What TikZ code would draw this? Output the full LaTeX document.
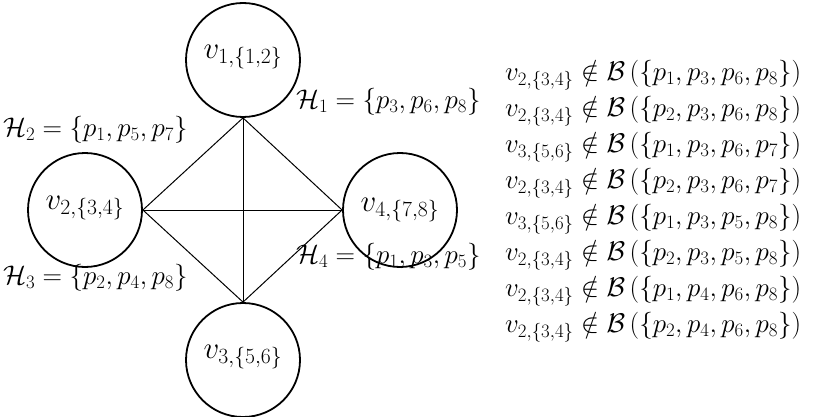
\RequirePackage{fix-cm}
\documentclass[tikz,border=0pt]{standalone}
\usepackage{amsmath,amssymb}
\begin{document}
\begin{tikzpicture}[x=1pt,y=-1pt,
  vert/.style={circle,draw,line width=1.8pt,minimum size=114pt,inner sep=0pt},
  vlab/.style={font=\fontsize{31}{36}\selectfont},
  lab/.style={font=\fontsize{27}{32}\selectfont,inner sep=0pt,anchor=west},
  edge/.style={line width=1pt}]
\useasboundingbox (0,0) rectangle (830,417);
\node[vert] (v1) at (243,60) {};
\node[vert] (v2) at (85,210) {};
\node[vert] (v4) at (400,210) {};
\node[vert] (v3) at (243,360) {};
\node[vlab] (t1) at (243,57) {$v_{1,\{1,2\}}$};
\node[vlab] (t2) at (85,208) {$v_{2,\{3,4\}}$};
\node[vlab] (t4) at (400,210) {$v_{4,\{7,8\}}$};
\node[vlab] (t3) at (243,357) {$v_{3,\{5,6\}}$};
\draw[edge] (v1.south) -- (v3.north);
\draw[edge] (v2.east) -- (v4.west);
\draw[edge] (v1.south) -- (v2.east);
\draw[edge] (v1.south) -- (v4.west);
\draw[edge] (v3.north) -- (v2.east);
\draw[edge] (v3.north) -- (v4.west);
\node[lab] (h1) at (296,102) {$\mathcal{H}_1=\{p_3,p_6,p_8\}$};
\node[lab] (h2) at (3,130) {$\mathcal{H}_2=\{p_1,p_5,p_7\}$};
\node[lab] (h3) at (3,278) {$\mathcal{H}_3=\{p_2,p_4,p_8\}$};
\node[lab] (h4) at (296,257) {$\mathcal{H}_4=\{p_1,p_3,p_5\}$};
\node[lab] (r1) at (505,75) {$v_{2,\{3,4\}}\notin\mathcal{B}\left(\{p_1,p_3,p_6,p_8\}\right)$};
\node[lab] (r2) at (505,111) {$v_{2,\{3,4\}}\notin\mathcal{B}\left(\{p_2,p_3,p_6,p_8\}\right)$};
\node[lab] (r3) at (505,147) {$v_{3,\{5,6\}}\notin\mathcal{B}\left(\{p_1,p_3,p_6,p_7\}\right)$};
\node[lab] (r4) at (505,183) {$v_{2,\{3,4\}}\notin\mathcal{B}\left(\{p_2,p_3,p_6,p_7\}\right)$};
\node[lab] (r5) at (505,219) {$v_{3,\{5,6\}}\notin\mathcal{B}\left(\{p_1,p_3,p_5,p_8\}\right)$};
\node[lab] (r6) at (505,255) {$v_{2,\{3,4\}}\notin\mathcal{B}\left(\{p_2,p_3,p_5,p_8\}\right)$};
\node[lab] (r7) at (505,291) {$v_{2,\{3,4\}}\notin\mathcal{B}\left(\{p_1,p_4,p_6,p_8\}\right)$};
\node[lab] (r8) at (505,327) {$v_{2,\{3,4\}}\notin\mathcal{B}\left(\{p_2,p_4,p_6,p_8\}\right)$};
\end{tikzpicture}
\end{document}
